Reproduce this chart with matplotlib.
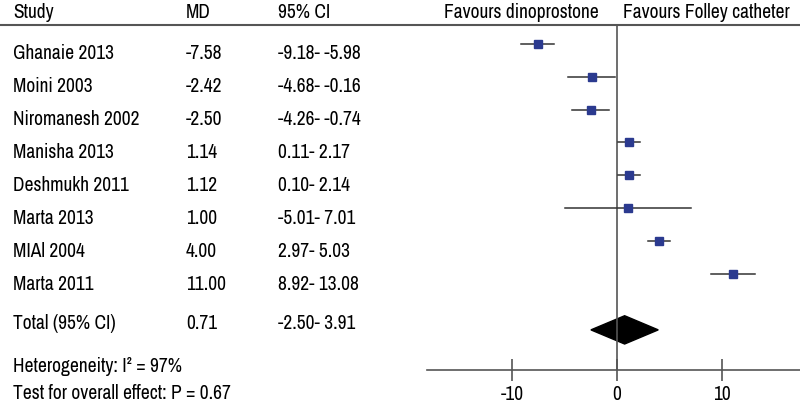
import matplotlib
matplotlib.use("Agg")
import matplotlib.pyplot as plt
import matplotlib.transforms as mtransforms
from matplotlib.lines import Line2D
from matplotlib.patches import Polygon

plt.rcParams['font.family'] = ['Archivo Narrow', 'Liberation Sans', 'DejaVu Sans']

studies = ["Ghanaie 2013", "Moini 2003", "Niromanesh 2002", "Manisha 2013",
           "Deshmukh 2011", "Marta 2013", "MIAl 2004", "Marta 2011"]
md = [-7.58, -2.42, -2.50, 1.14, 1.12, 1.00, 4.00, 11.00]
lo = [-9.18, -4.68, -4.26, 0.11, 0.10, -5.01, 2.97, 8.92]
hi = [-5.98, -0.16, -0.74, 2.17, 2.14, 7.01, 5.03, 13.08]
total_md, total_lo, total_hi = 0.71, -2.50, 3.91
heterogeneity = "Heterogeneity: I\u00b2 = 97%"
overall = "Test for overall effect: P = 0.67"
ticks = [-10, 0, 10]

FS = 14
GREY = "#555555"
BLUE = "#2b3a8f"

fig = plt.figure(figsize=(8, 4.04), dpi=100)
ax = fig.add_axes([427 / 800, 34 / 404, 373 / 800, 345 / 404])
ax.set_xlim(-18.1, 17.4)
ax.set_ylim(9.67, -0.82)

for s in ["top", "right", "left"]:
    ax.spines[s].set_visible(False)
ax.spines["bottom"].set_color(GREY)
ax.spines["bottom"].set_linewidth(1.2)
ax.set_yticks([])
ax.set_xticks(ticks)
ax.set_xticklabels([str(t) for t in ticks], fontsize=FS)
ax.tick_params(axis="x", direction="inout", length=16, width=1.2, color=GREY, pad=3)

ax.axvline(0, color=GREY, lw=1.2)

rows = list(range(len(studies)))
for i in rows:
    ax.plot([lo[i], hi[i]], [i - 0.25, i - 0.25], color="#333333", lw=1.1)
    ax.plot(md[i], i - 0.25, marker="s", ms=5.3, color=BLUE, mec=BLUE)

total_row = 8.2
dy = 0.43
ax.add_patch(Polygon([[total_lo, total_row + 0.25], [total_md, total_row + 0.25 - dy],
                      [total_hi, total_row + 0.25], [total_md, total_row + 0.25 + dy]],
                     closed=True, color="black"))

# header line across the whole figure
hdr = mtransforms.blended_transform_factory(fig.transFigure, ax.transAxes)
fig.add_artist(Line2D([0, 1], [1, 1], transform=hdr, color=GREY, lw=1.5))

col_x = [13 / 800, 186 / 800, 278 / 800]
for x, h in zip(col_x, ["Study", "MD", "95% CI"]):
    ax.text(x, 1.035, h, transform=hdr, fontsize=FS, va="center", ha="left")
ax.text(521 / 800, 1.035, "Favours dinoprostone", transform=hdr, fontsize=FS, va="center", ha="center")
ax.text(706 / 800, 1.035, "Favours Folley catheter", transform=hdr, fontsize=FS, va="center", ha="center")

tr = mtransforms.blended_transform_factory(fig.transFigure, ax.transData)
off = 0.06
for i in rows:
    ax.text(col_x[0], i + off, studies[i], transform=tr, fontsize=FS, va="center", clip_on=False)
    ax.text(col_x[1], i + off, "%.2f" % md[i], transform=tr, fontsize=FS, va="center", clip_on=False)
    ax.text(col_x[2], i + off, "%.2f- %.2f" % (lo[i], hi[i]), transform=tr, fontsize=FS, va="center", clip_on=False)

ax.text(col_x[0], total_row + off, "Total (95% CI)", transform=tr, fontsize=FS, va="center", clip_on=False)
ax.text(col_x[1], total_row + off, "%.2f" % total_md, transform=tr, fontsize=FS, va="center", clip_on=False)
ax.text(col_x[2], total_row + off, "%.2f- %.2f" % (total_lo, total_hi), transform=tr, fontsize=FS, va="center", clip_on=False)
ax.text(col_x[0], 9.51 + off, heterogeneity, transform=tr, fontsize=FS, va="center", clip_on=False)
ax.text(col_x[0], 10.33 + off, overall, transform=tr, fontsize=FS, va="center", clip_on=False)

fig.savefig("out.png", dpi=100)
